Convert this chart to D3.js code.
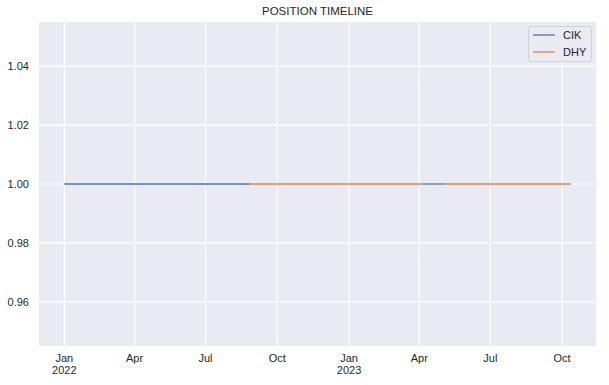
<!DOCTYPE html>
<html><head><meta charset="utf-8">
<script src="https://cdn.jsdelivr.net/npm/d3@7"></script>
<style>body{margin:0;background:#fff}svg{display:block}text{font-family:"Liberation Sans",Arial,sans-serif}</style>
</head><body><svg id="c" width="609" height="385"></svg>
<script>
const title = "POSITION TIMELINE";
const seriesNames = ["CIK", "DHY"];
const seriesColors = ["#4c72b0", "#dd8452"];
// each held period: [start, end], value 1
const cikPeriods = [["2022-01-01", "2022-08-27"], ["2023-04-04", "2023-05-04"], ["2023-10-11", "2023-10-12"]];
const dhyPeriods = [["2022-08-27", "2023-04-04"], ["2023-05-04", "2023-10-11"]];
const positionValue = 1;
const yTicks = [0.96, 0.98, 1.00, 1.02, 1.04];
const xTickDates = ["2022-01-01","2022-04-01","2022-07-01","2022-10-01","2023-01-01","2023-04-01","2023-07-01","2023-10-01"];

const parse = d3.utcParse("%Y-%m-%d");
const svg = d3.select("#c");
const m = {l:39, r:596, t:22, b:346};
const allDates = cikPeriods.concat(dhyPeriods).flat().map(parse);
const [d0, d1] = d3.extent(allDates);
const span = d1 - d0;
const x = d3.scaleUtc().domain([new Date(+d0 - span*0.05), new Date(+d1 + span*0.05)]).range([m.l, m.r]);
const y = d3.scaleLinear().domain([0.945, 1.055]).range([m.b, m.t]);

svg.append("rect").attr("x", m.l).attr("y", m.t).attr("width", m.r-m.l).attr("height", m.b-m.t).attr("fill", "#eaeaf2");

const xt = xTickDates.map(parse);
svg.append("g").selectAll("line").data(xt).join("line")
  .attr("x1", d=>x(d)).attr("x2", d=>x(d)).attr("y1", m.t).attr("y2", m.b)
  .attr("stroke", "#fff").attr("stroke-width", 1.2);
svg.append("g").selectAll("line").data(yTicks).join("line")
  .attr("y1", d=>y(d)).attr("y2", d=>y(d)).attr("x1", m.l).attr("x2", m.r)
  .attr("stroke", "#fff").attr("stroke-width", 1.2);

const fmtM = d3.utcFormat("%b");
const xl = svg.append("g").selectAll("text").data(xt).join("text")
  .attr("x", d=>x(d)).attr("y", 362).attr("text-anchor", "middle")
  .attr("font-size", 11).attr("fill", "#262626");
xl.append("tspan").attr("x", d=>x(d)).text(d=>fmtM(d));
xl.filter(d=>d.getUTCMonth()===0).append("tspan").attr("x", d=>x(d)).attr("dy", 11.5).text(d=>d.getUTCFullYear());

svg.append("g").selectAll("text").data(yTicks).join("text")
  .attr("x", 29).attr("y", d=>y(d)+4).attr("text-anchor", "end")
  .attr("font-size", 11).attr("fill", "#262626").text(d=>d3.format(".2f")(d));

const line = d3.line().x(d=>x(d[0])).y(d=>y(d[1]));
[cikPeriods, dhyPeriods].forEach((periods, i) => {
  svg.append("g").selectAll("path").data(periods).join("path")
    .attr("d", p => line([[parse(p[0]), positionValue],[parse(p[1]), positionValue]]))
    .attr("fill","none").attr("stroke", seriesColors[i]).attr("stroke-width", 1.3);
});

svg.append("text").attr("x", (m.l+m.r)/2).attr("y", 15).attr("text-anchor","middle")
  .attr("font-size", 11.5).attr("fill", "#262626").text(title);

const lg = svg.append("g");
lg.append("rect").attr("x", 528.5).attr("y", 26.5).attr("width", 63).attr("height", 35).attr("rx", 2.5)
  .attr("fill", "#eaeaf2").attr("fill-opacity", 0.8).attr("stroke", "#cccccc").attr("stroke-width", 0.8);
seriesNames.forEach((n, i) => {
  const yy = 35 + i*17;
  lg.append("line").attr("x1", 533).attr("x2", 555).attr("y1", yy).attr("y2", yy)
    .attr("stroke", seriesColors[i]).attr("stroke-width", 1.3);
  lg.append("text").attr("x", 563).attr("y", yy+4).attr("font-size", 11).attr("fill", "#262626").text(n);
});
</script></body></html>
